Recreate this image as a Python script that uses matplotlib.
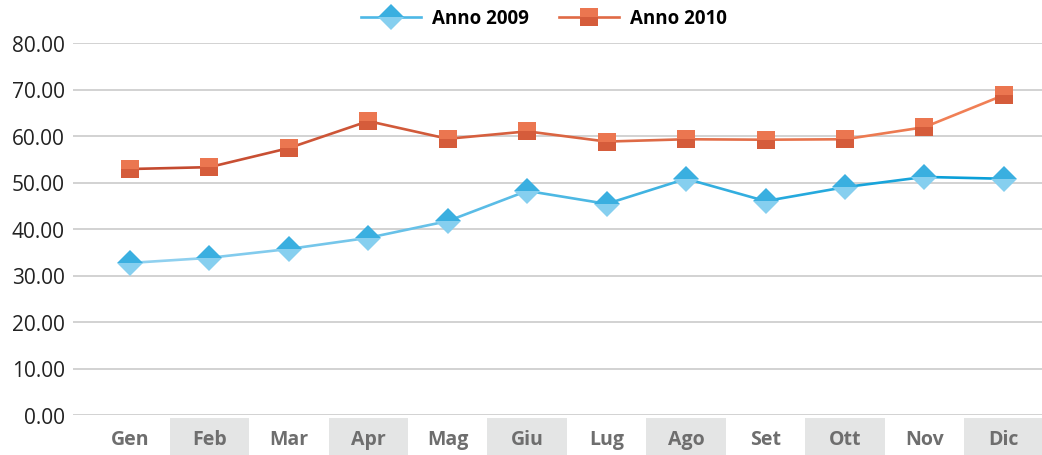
import numpy as np
import matplotlib
matplotlib.use('Agg')
import matplotlib.pyplot as plt
from matplotlib.collections import LineCollection
from matplotlib.lines import Line2D
from matplotlib.patches import Rectangle
from matplotlib.colors import to_rgb

months = ['Gen', 'Feb', 'Mar', 'Apr', 'Mag', 'Giu', 'Lug', 'Ago', 'Set', 'Ott', 'Nov', 'Dic']
anno_2009 = [32.7, 33.8, 35.7, 38.1, 41.7, 48.2, 45.4, 50.8, 46.0, 49.0, 51.2, 50.8]
anno_2010 = [52.9, 53.3, 57.4, 63.2, 59.4, 61.0, 58.8, 59.3, 59.2, 59.3, 61.9, 68.8]
y_ticks = [0, 10, 20, 30, 40, 50, 60, 70, 80]

plt.rcParams['font.family'] = ['Open Sans', 'DejaVu Sans']

fig = plt.figure(figsize=(10.42, 4.56), dpi=100)
ax = fig.add_axes([73 / 1042, 1 - 416 / 456, 1 - 73 / 1042, 372 / 456])

x = np.arange(len(months))


def gradient_line(xs, ys, c0, c1, z):
    pts = np.column_stack([xs, ys]).reshape(-1, 1, 2)
    segs = np.concatenate([pts[:-1], pts[1:]], axis=1)
    a, b = np.array(to_rgb(c0)), np.array(to_rgb(c1))
    t = np.linspace(0, 1, len(segs))
    cols = [a + (b - a) * ti for ti in t]
    lc = LineCollection(segs, colors=cols, linewidths=1.9, zorder=z, clip_on=False,
                        capstyle='round', joinstyle='round')
    ax.add_collection(lc)


gradient_line(x, anno_2009, '#8fd0ef', '#0b9fd8', 3)
gradient_line(x, anno_2010, '#c44a2f', '#f07f55', 3)

blue_mk = dict(marker='D', markersize=13, markerfacecolor='#3aafe0',
               markerfacecoloralt='#86cfef', fillstyle='top', markeredgewidth=0)
red_mk = dict(marker='s', markersize=12.5, markerfacecolor='#eb7650',
              markerfacecoloralt='#d55c3b', fillstyle='top', markeredgewidth=0)

ax.plot(x, anno_2009, linestyle='none', zorder=4, clip_on=False, **blue_mk)
ax.plot(x, anno_2010, linestyle='none', zorder=4, clip_on=False, **red_mk)

ax.set_xlim(-0.717, 11.48)
ax.set_ylim(0, 80)
ax.set_yticks(y_ticks)
ax.set_yticklabels(['%.2f' % v for v in y_ticks], fontsize=15, color='#222222')
ax.yaxis.grid(True, color='#d2d2d2', linewidth=1.4)
ax.set_axisbelow(True)
ax.tick_params(axis='y', length=0, pad=6)
ax.set_xticks([])
for s in ax.spines.values():
    s.set_visible(False)

# month bands under the axis
trans = ax.get_xaxis_transform()
for i, m in enumerate(months):
    if i % 2 == 1:
        ax.add_patch(Rectangle((i - 0.5, -0.1075), 1, 0.1, transform=trans,
                               facecolor='#e4e5e5', edgecolor='none', clip_on=False))
    ax.text(i, -0.065, m, transform=trans, ha='center', va='center',
            fontsize=14, fontweight='bold', color='#6e6e6e')

handles = [
    Line2D([], [], color='#4db8e6', linewidth=1.9, **blue_mk),
    Line2D([], [], color='#e06a45', linewidth=1.9, **red_mk),
]
fig.legend(handles, ['Anno 2009', 'Anno 2010'], loc='center', bbox_to_anchor=(0.522, 0.958),
           ncol=2, frameon=False, prop={'weight': 'bold', 'size': 13.5},
           handlelength=3.2, columnspacing=1.6, handletextpad=0.6)

fig.savefig('out.png', dpi=100)
